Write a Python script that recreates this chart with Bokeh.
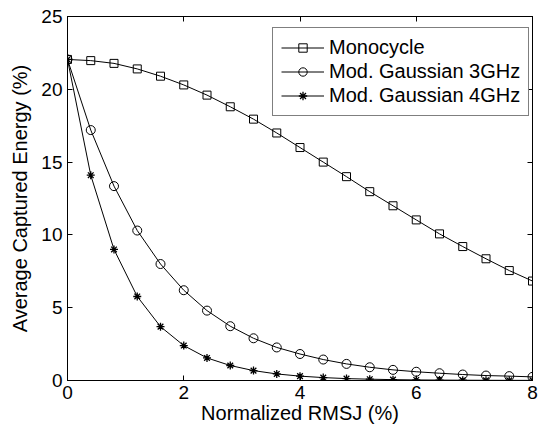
from bokeh.plotting import figure
from bokeh.models import Range1d, LinearAxis, FixedTicker, Legend, LegendItem
from bokeh.embed import file_html
from bokeh.resources import INLINE

x = [0.0, 0.4, 0.8, 1.2, 1.6, 2.0, 2.4, 2.8, 3.2, 3.6, 4.0,
     4.4, 4.8, 5.2, 5.6, 6.0, 6.4, 6.8, 7.2, 7.6, 8.0]
monocycle = [22.05, 21.97, 21.78, 21.4, 20.9, 20.3, 19.6, 18.8, 17.95, 17.0, 16.0,
             15.0, 14.0, 12.97, 12.0, 11.03, 10.07, 9.2, 8.36, 7.55, 6.83]
gauss3 = [22.05, 17.2, 13.35, 10.3, 8.0, 6.2, 4.8, 3.73, 2.9, 2.27, 1.82,
          1.44, 1.14, 0.91, 0.73, 0.6, 0.5, 0.41, 0.34, 0.3, 0.25]
gauss4 = [22.05, 14.1, 9.0, 5.77, 3.7, 2.4, 1.55, 1.03, 0.68, 0.45, 0.3,
          0.2, 0.13, 0.09, 0.06, 0.04, 0.03, 0.02, 0.015, 0.01, 0.01]
labels = ["Monocycle", "Mod. Gaussian 3GHz", "Mod. Gaussian 4GHz"]
x_ticks = [0, 2, 4, 6, 8]
y_ticks = [0, 5, 10, 15, 20, 25]

FONT = "Liberation Sans"

p = figure(width=539, height=426, output_backend="svg", toolbar_location=None,
           x_range=Range1d(0, 8), y_range=Range1d(0, 25),
           min_border_left=67, min_border_right=7, min_border_top=16, min_border_bottom=46)
p.xgrid.visible = False
p.ygrid.visible = False
p.outline_line_color = "black"
p.outline_line_width = 1
p.background_fill_color = "white"
p.border_fill_color = "white"

for ax, ticks in ((p.xaxis[0], x_ticks), (p.yaxis[0], y_ticks)):
    ax.ticker = FixedTicker(ticks=ticks)
    ax.major_tick_in = 5
    ax.major_tick_out = 0
    ax.minor_tick_line_color = None
    ax.axis_line_color = "black"
    ax.major_label_text_font = FONT
    ax.major_label_text_font_size = "19px"
    ax.major_label_text_color = "black"
    ax.axis_label_text_font = FONT
    ax.axis_label_text_font_style = "normal"
    ax.axis_label_text_color = "black"
p.xaxis[0].axis_label = "Normalized RMSJ (%)"
p.yaxis[0].axis_label = "Average Captured Energy (%)"
p.xaxis[0].axis_label_text_font_size = "20px"
p.yaxis[0].axis_label_text_font_size = "20px"
p.xaxis[0].axis_label_standoff = 0
p.yaxis[0].axis_label_standoff = 7
p.xaxis[0].major_label_standoff = 5
p.yaxis[0].major_label_standoff = 5

for loc, ticks in (("above", x_ticks), ("right", y_ticks)):
    ax = LinearAxis(ticker=FixedTicker(ticks=ticks), major_tick_in=5, major_tick_out=0,
                    minor_tick_line_color=None, major_label_text_font_size="0px",
                    major_label_standoff=0, axis_line_color="black")
    ax.major_label_text_alpha = 0
    p.add_layout(ax, loc)

l1 = p.line(x, monocycle, line_color="black", line_width=1)
m1 = p.scatter(x, monocycle, marker="square", size=8, fill_color=None, line_color="black", line_width=1)
l2 = p.line(x, gauss3, line_color="black", line_width=1)
m2 = p.scatter(x, gauss3, marker="circle", size=9, fill_color=None, line_color="black", line_width=1)
l3 = p.line(x, gauss4, line_color="black", line_width=1)
m3 = p.scatter(x, gauss4, marker="asterisk", size=8, line_color="black", line_width=1.3)

legend = Legend(items=[LegendItem(label=labels[0], renderers=[l1, m1]),
                       LegendItem(label=labels[1], renderers=[l2, m2]),
                       LegendItem(label=labels[2], renderers=[l3, m3])],
                location=(205, 264))
legend.margin = 0
legend.border_line_color = "black"
legend.border_line_width = 1
legend.label_text_font = FONT
legend.label_text_font_size = "20px"
legend.label_text_color = "black"
legend.glyph_width = 43
legend.glyph_height = 21
legend.label_height = 21
legend.spacing = 1
legend.padding = 8
legend.label_standoff = 5
p.add_layout(legend)

open("out.html", "w").write(file_html(p, INLINE))
